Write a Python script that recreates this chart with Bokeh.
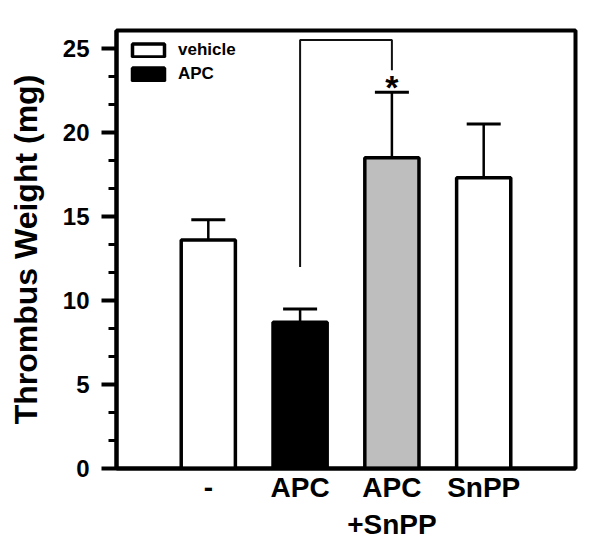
from bokeh.plotting import figure
from bokeh.models import (ColumnDataSource, Range1d, SingleIntervalTicker, FixedTicker,
                          Whisker, TeeHead, Legend, LegendItem)
from bokeh.core.properties import value
from bokeh.embed import file_html
from bokeh.resources import INLINE

# ---- data ----
categories = ["-", "APC", "APC\n+SnPP", "SnPP"]
means = [13.6, 8.7, 18.5, 17.3]
errors = [1.2, 0.8, 3.9, 3.2]
legend_labels = ["vehicle", "APC"]
# significance bracket between "APC" and "APC+SnPP"
bracket_left_y = 12.0
bracket_top_y = 25.5
bracket_right_y = 23.7
star_y = 22.7
y_max = 26.07

positions = [i + 1 for i in range(len(categories))]
fill_colors = ["white", "black", "#bebebe", "white"]
FONT = "Liberation Sans"

src = ColumnDataSource(dict(
    x=positions,
    top=means,
    upper=[m + e for m, e in zip(means, errors)],
    color=fill_colors,
))

p = figure(width=592, height=548, x_range=Range1d(0, len(categories) + 1),
           y_range=Range1d(0, y_max), output_backend="svg", toolbar_location=None,
           min_border_left=116, min_border_right=17, min_border_top=30, min_border_bottom=80)

p.outline_line_color = "black"
p.outline_line_width = 4
p.xgrid.visible = False
p.ygrid.visible = False

bars = p.vbar(x="x", top="top", bottom=0, width=0.59, source=src,
              fill_color="color", line_color="black", line_width=3.5)

wh = Whisker(base="x", lower="top", upper="upper", source=src, dimension="height",
             line_color="black", line_width=2.5,
             upper_head=TeeHead(size=34, line_width=3, line_color="black"),
             lower_head=None, level="glyph")
p.add_layout(wh)

# bracket
x_a = positions[1]
x_b = positions[2]
p.line(x=[x_a, x_a, x_b, x_b], y=[bracket_left_y, bracket_top_y, bracket_top_y, bracket_right_y],
       line_color="#111111", line_width=2)
p.text(x=[x_b], y=[star_y], text=["*"], text_font=value(FONT), text_font_style="bold",
       text_font_size="34px", text_align="center", text_baseline="middle", text_color="black")

# y axis
p.yaxis.ticker = SingleIntervalTicker(interval=5, num_minor_ticks=3)
p.yaxis.axis_line_width = 4
p.yaxis.major_tick_line_width = 4
p.yaxis.major_tick_out = 15
p.yaxis.major_tick_in = 0
p.yaxis.minor_tick_line_width = 3
p.yaxis.minor_tick_out = 8
p.yaxis.minor_tick_in = 0
p.yaxis.major_label_text_font = FONT
p.yaxis.major_label_text_font_style = "bold"
p.yaxis.major_label_text_font_size = "24px"
p.yaxis.major_label_text_color = "black"
p.yaxis.major_label_standoff = 12
p.yaxis.axis_label = "Thrombus Weight (mg)"
p.yaxis.axis_label_text_font = FONT
p.yaxis.axis_label_text_font_style = "bold"
p.yaxis.axis_label_text_font_size = "32px"
p.yaxis.axis_label_text_color = "black"
p.yaxis.axis_label_standoff = 16

# x axis
p.xaxis.ticker = FixedTicker(ticks=positions)
p.xaxis.major_label_overrides = {pos: lab for pos, lab in zip(positions, categories)}
p.xaxis.axis_line_width = 4
p.xaxis.major_tick_line_color = None
p.xaxis.minor_tick_line_color = None
p.xaxis.major_tick_out = 0
p.xaxis.major_tick_in = 0
p.xaxis.major_label_text_font = FONT
p.xaxis.major_label_text_font_style = "bold"
p.xaxis.major_label_text_font_size = "28px"
p.xaxis.major_label_text_color = "black"
p.xaxis.major_label_standoff = 3

legend = Legend(items=[LegendItem(label=legend_labels[0], renderers=[bars], index=0),
                       LegendItem(label=legend_labels[1], renderers=[bars], index=1)],
                location=(12, 384), border_line_color=None, background_fill_alpha=0,
                glyph_width=40, glyph_height=16, label_height=20, label_text_font=FONT,
                label_text_font_size="17px", label_text_font_style="bold",
                label_text_color="black",
                padding=0, spacing=4, label_standoff=10, margin=0)
p.add_layout(legend)

open("out.html", "w").write(file_html(p, INLINE))
